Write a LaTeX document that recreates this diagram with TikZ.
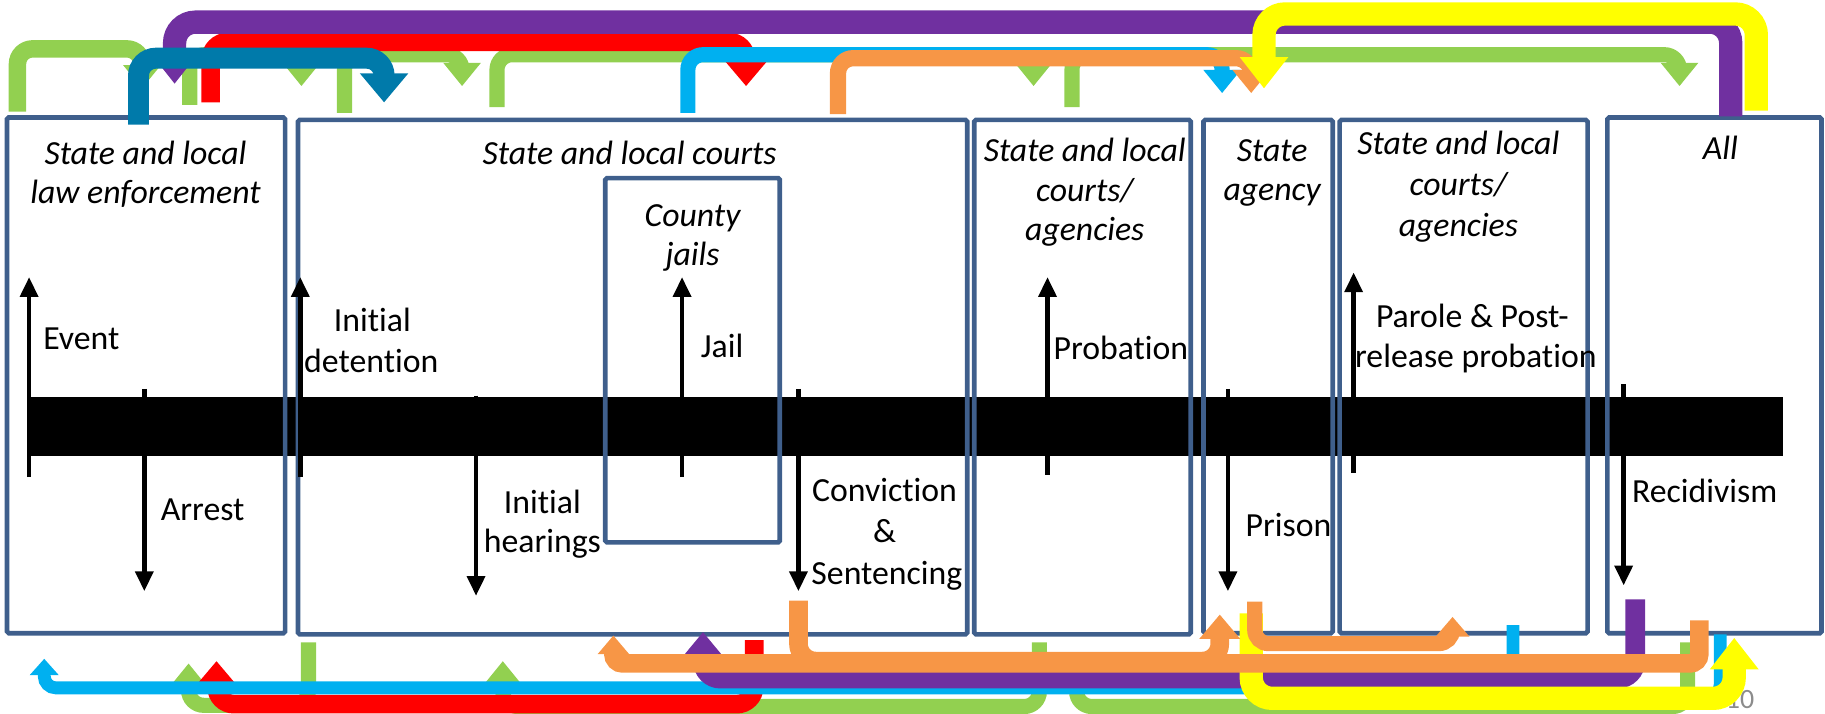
\documentclass[tikz,border=0pt]{standalone}
\usepackage{fontspec}
\setmainfont{Carlito}[Ligatures={NoCommon}]
\usetikzlibrary{arrows.meta}
\definecolor{boxc}{RGB}{63,95,140}
\definecolor{cgreen}{RGB}{146,208,80}
\definecolor{cred}{RGB}{255,0,0}
\definecolor{cpurple}{RGB}{112,48,160}
\definecolor{cteal}{RGB}{0,122,170}
\definecolor{cblue}{RGB}{0,176,240}
\definecolor{corange}{RGB}{247,150,70}
\definecolor{cyellow}{RGB}{255,255,0}
\definecolor{pgnum}{RGB}{140,140,140}
\tikzset{
  box/.style={draw=boxc,line width=4pt,rounded corners=1.5pt},
  lbl/.style={inner sep=0pt,anchor=base,font=\fontsize{29}{35}\selectfont},
  hdr/.style={inner sep=0pt,anchor=base,font=\fontsize{29}{35}\selectfont\itshape},
  blk/.style={line width=4pt,-{Triangle[width=15pt,length=17pt]}},
  fS/.style={line width=13pt,rounded corners=13pt,-{Triangle[width=31pt,length=20pt]}},
  fM/.style={line width=16pt,rounded corners=15pt,-{Triangle[width=34pt,length=21pt]}},
  fL/.style={line width=20pt,rounded corners=18pt,-{Triangle[width=40pt,length=27pt]}},
  stub/.style={line width=13pt,rounded corners=13pt},
}
\begin{document}
\begin{tikzpicture}[x=1pt,y=-1pt]
\useasboundingbox (0,0) rectangle (1568,613.4);

% black timeline bar
\fill[black] (25,341) rectangle (1532,392);

% boxes
\draw[box] (6,101) rectangle (245,544);
\draw[box] (256,103) rectangle (831,545);
\draw[box] (520,153) rectangle (670,466);
\draw[box] (837,103) rectangle (1023,545);
\draw[box] (1034,103) rectangle (1145,544);
\draw[box] (1151,103) rectangle (1364,544);
\draw[box] (1381,101) rectangle (1565,544);

% black event arrows
\coordinate (evA) at (25,410);   \coordinate (evB) at (25,238);
\coordinate (arA) at (124,334);  \coordinate (arB) at (124,508);
\coordinate (idA) at (258,410);  \coordinate (idB) at (258,238);
\coordinate (ihA) at (409,340);  \coordinate (ihB) at (409,512);
\coordinate (jaA) at (586,410);  \coordinate (jaB) at (586,238);
\coordinate (csA) at (686,334);  \coordinate (csB) at (686,508);
\coordinate (prA) at (900,408);  \coordinate (prB) at (900,238);
\coordinate (psA) at (1055,334); \coordinate (psB) at (1055,508);
\coordinate (paA) at (1163,406); \coordinate (paB) at (1163,234);
\coordinate (reA) at (1395,330); \coordinate (reB) at (1395,503);
\foreach \a/\b in {evA/evB,arA/arB,idA/idB,ihA/ihB,jaA/jaB,csA/csB,prA/prB,psA/psB,paA/paB,reA/reB}
  \draw[blk] (\a) -- (\b);

% headers
\node[hdr] (h1a) at (125,141) {State and local};
\node[hdr] (h1b) at (125,175) {law enforcement};
\node[hdr] (h2) at (541,141) {State and local courts};
\node[hdr] (h3a) at (595,195) {County};
\node[hdr] (h3b) at (595,228) {jails};
\node[hdr] (h4a) at (932,139) {State and local};
\node[hdr] (h4b) at (932,173) {courts/};
\node[hdr] (h4c) at (932,207) {agencies};
\node[hdr] (h5a) at (1093,139) {State};
\node[hdr] (h5b) at (1093,172) {agency};
\node[hdr] (h6a) at (1253,133) {State and local};
\node[hdr] (h6b) at (1253,168) {courts/};
\node[hdr] (h6c) at (1253,203) {agencies};
\node[hdr] (h7) at (1478,137) {All};

% labels
\node[lbl,anchor=base west] (l1) at (37,300) {Event};
\node[lbl,anchor=base west] (l2) at (138,447) {Arrest};
\node[lbl] (l3a) at (320,285) {Initial};
\node[lbl] (l3b) at (319,320) {detention};
\node[lbl] (l4a) at (466,441) {Initial};
\node[lbl] (l4b) at (466,475) {hearings};
\node[lbl,anchor=base west] (l5) at (602,307) {Jail};
\node[lbl] (l6a) at (760,431) {Conviction};
\node[lbl] (l6b) at (760,466) {\&};
\node[lbl] (l6c) at (762,502) {Sentencing};
\node[lbl,anchor=base west] (l7) at (905,309) {Probation};
\node[lbl,anchor=base west] (l8) at (1070,461) {Prison};
\node[lbl] (l9a) at (1265,281) {Parole \& Post-};
\node[lbl] (l9b) at (1268,316) {release probation};
\node[lbl,anchor=base west] (l10) at (1402,432) {Recidivism};

\node[inner sep=0pt,text=pgnum,font=\fontsize{24}{28}\selectfont] (pg) at (1495,601) {10};

% ---------- top flows ----------
\coordinate (gAs) at (15,96);   \coordinate (gAe) at (122,76);
\coordinate (gBs) at (163,90);  \coordinate (gBe) at (259,74);
\coordinate (gCs) at (296,97);  \coordinate (gCe) at (397,74);
\coordinate (gDs) at (427,92);  \coordinate (gDe) at (888,74);
\coordinate (gEs) at (921,92);  \coordinate (gEe) at (1443,74);
\draw[fS,cgreen,line width=15pt] (gAs) -- (gAs |- 0,42) -| (gAe);
\draw[fS,cgreen] (gBs) -- (gBs |- 0,47) -| (gBe);
\draw[fS,cgreen] (gCs) -- (gCs |- 0,47) -| (gCe);
\draw[fS,cgreen] (gDs) -- (gDs |- 0,47) -| (gDe);
\draw[fS,cgreen] (gEs) -- (gEs |- 0,47) -| (gEe);

\coordinate (rTs) at (181,88);  \coordinate (rTe) at (641,74);
\draw[fM,cred] (rTs) -- (rTs |- 0,36) -| (rTe);

\coordinate (pTs) at (1487,100); \coordinate (pTe) at (150,72);
\draw[fL,cpurple,-{Triangle[width=36pt,length=24pt]}] (pTs) -- (pTs |- 0,19) -| (pTe);

\coordinate (bTs) at (591,97);  \coordinate (bTe) at (1050,80);
\draw[fS,cblue] (bTs) -- (bTs |- 0,47) -| (bTe);

\coordinate (oTs) at (720,98);  \coordinate (oTe) at (1075,80);
\draw[fS,corange,line width=14pt] (oTs) -- (oTs |- 0,50) -| (oTe);

\coordinate (tTs) at (119,107); \coordinate (tTe) at (330,88);
\draw[fM,cteal,line width=18pt,-{Triangle[width=40pt,length=25pt]}] (tTs) -- (tTs |- 0,50) -| (tTe);

\coordinate (yTs) at (1509,95); \coordinate (yTe) at (1086,76);
\draw[fL,cyellow] (yTs) -- (yTs |- 0,12) -| (yTe);

% ---------- bottom flows ----------
\coordinate (gFs) at (265,552);  \coordinate (gFe) at (162,570);
\coordinate (gGs) at (893,552);  \coordinate (gGe) at (432,568);
\coordinate (gHs) at (1450,552); \coordinate (gHe) at (925,588);
\draw[fS,cgreen] (gFs) -- (gFs |- 0,606) -| (gFe);
\draw[fS,cgreen] (gGs) -- (gGs |- 0,607) -| (gGe);
\draw[stub,cgreen] (gHs) -- (gHs |- 0,607) -| (gHe);

\coordinate (rBs) at (648,550);  \coordinate (rBe) at (186,568);
\draw[fM,cred] (rBs) -- (rBs |- 0,605) -| (rBe);

\coordinate (b1s) at (1300,537); \coordinate (b1e) at (38,566);
\coordinate (b2s) at (1478,545); \coordinate (b2e) at (1335,562);
\coordinate (b3s) at (1157,592); \coordinate (b3e) at (1157,562);
\draw[cblue,line width=11pt,rounded corners=10pt,-{Triangle[width=24pt,length=14pt]}] (b1s) -- (b1s |- 0,591) -| (b1e);
\draw[fS,cblue,line width=11pt,rounded corners=10pt,-{Triangle[width=26pt,length=16pt]}] (b2s) -- (b2s |- 0,598) -| (b2e);
\draw[cblue,line width=11pt,-{Triangle[width=26pt,length=16pt]}] (b3s) -- (b3e);

\coordinate (pBs) at (1405,515); \coordinate (pBe) at (604,543);
\draw[cpurple,line width=17pt,rounded corners=15pt,-{Triangle[width=38pt,length=24pt]}] (pBs) -- (pBs |- 0,583) -| (pBe);

\coordinate (yBs) at (1075,527); \coordinate (yBe) at (1490,548);
\draw[fL,cyellow] (yBs) -- (yBs |- 0,600) -| (yBe);

\coordinate (o1s) at (686,516);  \coordinate (o1e) at (1048,528);
\coordinate (o2s) at (1460,533); \coordinate (o2e) at (527,546);
\coordinate (o3s) at (1078,517); \coordinate (o3e) at (1248,530);
\draw[corange,line width=16pt,rounded corners=8pt,-{Triangle[width=26pt,length=16pt]}] (o2s) -- (o2s |- 0,570) -| (o2e);
\draw[fM,corange] (o1s) -- (o1s |- 0,568) -| (o1e);
\draw[corange,line width=13pt,rounded corners=12pt,-{Triangle[width=28pt,length=17pt]}] (o3s) -- (o3s |- 0,553) -| (o3e);

\end{tikzpicture}
\end{document}
